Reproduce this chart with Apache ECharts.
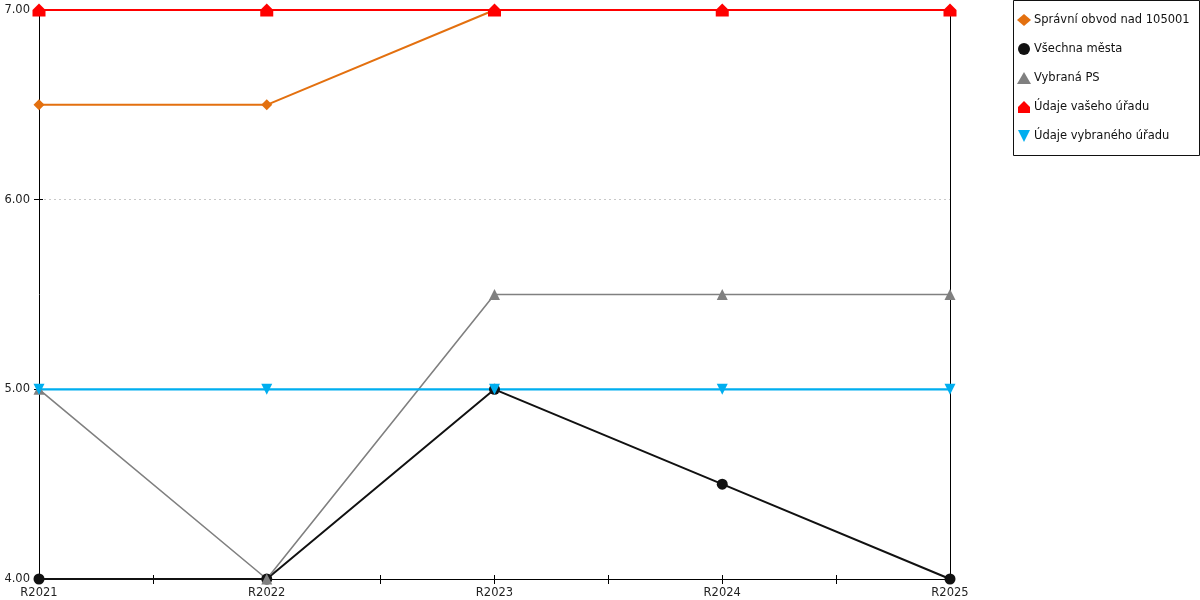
<!DOCTYPE html>
<html><head><meta charset="utf-8">
<script src="https://cdn.jsdelivr.net/npm/echarts@6/dist/echarts.min.js"></script>
<style>html,body{margin:0;padding:0;background:#fff}#c{width:1200px;height:600px}</style>
</head><body><div id="c"></div>
<script>
const categories = ['R2021','R2022','R2023','R2024','R2025'];
const spravniObvod = [6.5, 6.5, 7, 7, 7];
const vsechnaMesta = [4, 4, 5, 4.5, 4];
const vybranaPS = [5, 4, 5.5, 5.5, 5.5];
const udajeVasehoUradu = [7, 7, 7, 7, 7];
const udajeVybranehoUradu = [5, 5, 5, 5, 5];
const yTicks = [4, 5, 6, 7];

const FONT = 'DejaVu Sans';
const house = 'path://M0,5 L5,0 L10,5 L10,10 L0,10 Z';
const downTri = 'path://M0,0 L10,0 L5,10 Z';
const pts = vals => categories.map((c, i) => [i, vals[i]]);

function mk(name, vals, color, symbol, size, width) {
  return {
    name, type: 'line', data: pts(vals), symbol, symbolSize: size,
    itemStyle: { color }, lineStyle: { color, width },
    showSymbol: true, animation: false, emphasis: { disabled: true }
  };
}

const chart = echarts.init(document.getElementById('c'));
chart.setOption({
  animation: false,
  textStyle: { fontFamily: FONT },
  grid: { left: 39, right: 250, top: 10, bottom: 21 },
  graphic: [{
    type: 'rect', left: 1013, top: 0, z: 0,
    shape: { width: 186, height: 155 },
    style: { fill: '#fff', stroke: '#111', lineWidth: 1 }
  }],
  legend: {
    orient: 'vertical', left: 1017, top: 14,
    padding: 0, itemGap: 17, itemWidth: 14, itemHeight: 12,
    textStyle: { fontFamily: FONT, fontSize: 11.5, color: '#111', padding: [0, 0, 0, -2] },
    data: [
      { name: 'Správní obvod nad 105001', icon: 'diamond' },
      { name: 'Všechna města', icon: 'circle' },
      { name: 'Vybraná PS', icon: 'triangle' },
      { name: 'Údaje vašeho úřadu', icon: house },
      { name: 'Údaje vybraného úřadu', icon: downTri }
    ]
  },
  xAxis: [{
    type: 'value', min: 0, max: categories.length - 1, interval: 0.5,
    axisLine: { lineStyle: { color: '#000', width: 1 } },
    axisTick: { show: true, length: 5, lineStyle: { color: '#000' } },
    splitLine: { show: false },
    axisLabel: {
      fontFamily: FONT, fontSize: 11.5, color: '#222', margin: 8,
      formatter: v => Number.isInteger(v) ? categories[v] : ''
    }
  }, {
    type: 'value', min: 0, max: categories.length - 1, interval: 0.5, position: 'bottom', offset: 0,
    axisLine: { show: false }, splitLine: { show: false }, axisLabel: { show: false },
    axisTick: { show: true, inside: true, length: 4, lineStyle: { color: '#000' } }
  }],
  yAxis: [{
    type: 'value', min: yTicks[0], max: yTicks[yTicks.length - 1], interval: 1,
    axisLine: { show: true, lineStyle: { color: '#000', width: 1 } },
    axisTick: { show: true, length: 5, lineStyle: { color: '#000' } },
    splitLine: { show: true, lineStyle: { color: '#c8c8c8', type: [2, 3], width: 1 } },
    axisLabel: { fontFamily: FONT, fontSize: 11.5, color: '#222', margin: 9, formatter: v => v.toFixed(2) }
  }, {
    type: 'value', min: yTicks[0], max: yTicks[yTicks.length - 1], interval: 1, position: 'left', offset: 0,
    axisLine: { show: false }, splitLine: { show: false }, axisLabel: { show: false },
    axisTick: { show: true, inside: true, length: 4, lineStyle: { color: '#000' } }
  }, {
    type: 'value', min: yTicks[0], max: yTicks[yTicks.length - 1], interval: 1, position: 'right',
    axisLine: { show: true, lineStyle: { color: '#000', width: 1 } },
    axisTick: { show: false }, splitLine: { show: false }, axisLabel: { show: false }
  }],
  series: [
    mk('Správní obvod nad 105001', spravniObvod, '#E3700F', 'diamond', 11, 2),
    mk('Všechna města', vsechnaMesta, '#111111', 'circle', 11, 2),
    mk('Vybraná PS', vybranaPS, '#808080', 'triangle', 11, 1.6),
    mk('Údaje vašeho úřadu', udajeVasehoUradu, '#FF0000', house, 13, 2),
    mk('Údaje vybraného úřadu', udajeVybranehoUradu, '#00AEEF', downTri, 11, 2.2)
  ]
});
</script></body></html>
